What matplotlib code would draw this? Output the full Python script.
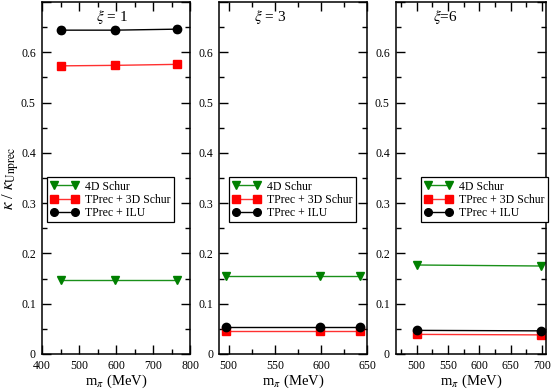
import matplotlib
matplotlib.use("Agg")
import matplotlib.pyplot as plt
from matplotlib.ticker import MultipleLocator, FuncFormatter
from matplotlib.lines import Line2D

plt.rcParams['font.family'] = ['Liberation Serif', 'DejaVu Serif']
plt.rcParams['mathtext.fontset'] = 'stix'

# ---- data ----
xi_labels = [r'$\xi$ = 1', r'$\xi$ = 3', r'$\xi$=6']
series_names = ['4D Schur', 'TPrec + 3D Schur', 'TPrec + ILU']

mpi_1 = [450, 597, 765]
schur4d_1 = [0.148, 0.148, 0.148]
tprec3d_1 = [0.573, 0.574, 0.576]
tprecilu_1 = [0.644, 0.644, 0.646]
ilu_err_1 = [0.006, 0.006, 0.006]

mpi_3 = [497, 599, 642]
schur4d_3 = [0.155, 0.155, 0.155]
tprec3d_3 = [0.045, 0.045, 0.045]
tprecilu_3 = [0.053, 0.053, 0.053]

mpi_6 = [500, 698]
schur4d_6 = [0.177, 0.175]
tprec3d_6 = [0.039, 0.038]
tprecilu_6 = [0.047, 0.046]

panels = [
    (mpi_1, schur4d_1, tprec3d_1, tprecilu_1, ilu_err_1, (400, 800), 100, 50),
    (mpi_3, schur4d_3, tprec3d_3, tprecilu_3, None, (490, 650), 50, 25),
    (mpi_6, schur4d_6, tprec3d_6, tprecilu_6, None, (467, 706), 50, 25),
]

GREEN = '#008000'
RED = '#ff0000'

fig = plt.figure(figsize=(5.54, 3.89), dpi=100)
W, H = 554, 389
lefts = [42, 219.3, 396]
widths = [148, 148, 149.7]
bottom_px, top_px = 354, 2
title_x = [112, 270, 445]
legend_left_px = [47, 229, 421]
legend_top_px = 177

ms = 6
for i, (x, g, r, k, kerr, xlim, maj, mnr) in enumerate(panels):
    ax = fig.add_axes([lefts[i] / W, 1 - bottom_px / H, widths[i] / W, (bottom_px - top_px) / H])
    ax.plot(x, g, color='#1a901a', lw=1.0, marker='v', markersize=ms,
            markerfacecolor=GREEN, markeredgecolor=GREEN)
    ax.plot(x, r, color='#ff3030', lw=1.0, marker='s', markersize=ms,
            markerfacecolor=RED, markeredgecolor=RED)
    if kerr is not None:
        ax.errorbar(x, k, yerr=kerr, color='black', lw=1.0, marker='o', markersize=ms,
                    capsize=2.5, elinewidth=1.0)
    else:
        ax.plot(x, k, color='black', lw=1.0, marker='o', markersize=ms)
    ax.set_xlim(*xlim)
    ax.set_ylim(0, 0.7)
    ax.xaxis.set_major_locator(MultipleLocator(maj))
    ax.xaxis.set_minor_locator(MultipleLocator(mnr))
    ax.yaxis.set_major_locator(MultipleLocator(0.1))
    ax.yaxis.set_minor_locator(MultipleLocator(0.05))
    ax.yaxis.set_major_formatter(FuncFormatter(
        lambda v, p: '0' if abs(v) < 1e-9 else ('' if v > 0.65 else '%.1f' % v)))
    ax.tick_params(which='both', direction='in', top=True, right=True, labelsize=8.5, width=1.0)
    ax.tick_params(axis='y', pad=4.5)
    ax.tick_params(axis='x', pad=4)
    ax.tick_params(which='major', length=6.5)
    ax.tick_params(which='minor', length=3.5)
    for s in ax.spines.values():
        s.set_linewidth(1.1)
    ax.set_xlabel(r'm$_\pi$ (MeV)', fontsize=10.5, labelpad=1)
    ax.text((title_x[i] - lefts[i]) / widths[i], 1 - (17 - top_px) / (bottom_px - top_px), xi_labels[i],
            transform=ax.transAxes, ha='center', va='center', fontsize=11)
    handles = [
        Line2D([], [], color='#1a901a', lw=1.0, marker='v', markersize=5.5,
               markerfacecolor=GREEN, markeredgecolor=GREEN),
        Line2D([], [], color='#ff3030', lw=1.0, marker='s', markersize=5.5,
               markerfacecolor=RED, markeredgecolor=RED),
        Line2D([], [], color='black', lw=1.0, marker='o', markersize=5.5),
    ]
    leg = ax.legend(handles, series_names, numpoints=2,
                    loc='upper left',
                    bbox_to_anchor=((legend_left_px[i] - lefts[i]) / widths[i],
                                    1 - (legend_top_px - top_px) / (bottom_px - top_px)),
                    fontsize=8.5, frameon=True, fancybox=False, edgecolor='black',
                    borderpad=0.3, labelspacing=0.1, handlelength=2.4, handletextpad=0.5,
                    borderaxespad=0.0, framealpha=1)
    leg.get_frame().set_linewidth(0.9)
    if i == 0:
        ax.set_ylabel(r'$\kappa$ / $\kappa_{\rm Unprec}$', fontsize=12, labelpad=0)

fig.savefig('out.png', dpi=100)
